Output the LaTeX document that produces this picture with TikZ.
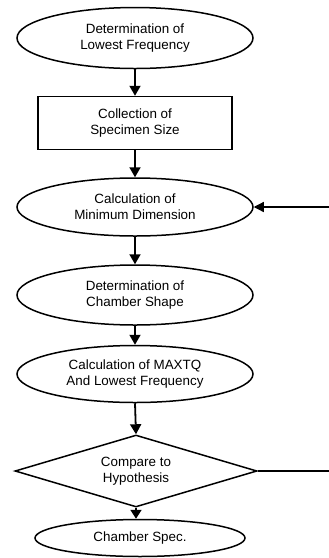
\documentclass[tikz,border=0pt]{standalone}
\usepackage{fontspec}
\setmainfont{Liberation Sans}
\usetikzlibrary{shapes.geometric,arrows.meta}
\begin{document}
\begin{tikzpicture}[x=1pt,y=-1pt,
  box/.style={draw, line width=1.5pt, fill=white, align=center, inner sep=0pt,
    font=\fontsize{13.4}{16}\selectfont},
  oval/.style={box, ellipse},
  rectbox/.style={box, rectangle, minimum width=194pt, minimum height=53pt},
  decision/.style={box, diamond, shape aspect=3.3, minimum width=242pt, minimum height=72pt},
  arr/.style={-{Triangle[length=10pt,width=11pt]}, line width=1.8pt},
  fb/.style={line width=1.2pt}]
\useasboundingbox (0,0) rectangle (329,558);
\node[oval, minimum width=236pt, minimum height=61pt] (e1) at (135,38) {Determination of\\Lowest Frequency};
\node[rectbox] (r) at (135,123) {Collection of\\Specimen Size};
\node[oval, minimum width=236pt, minimum height=58pt] (e3) at (135,207) {Calculation of\\Minimum Dimension};
\node[oval, minimum width=236pt, minimum height=60pt] (e4) at (135,295) {Determination of\\Chamber Shape};
\node[oval, minimum width=236pt, minimum height=57pt] (e5) at (135,374) {Calculation of MAXTQ\\And Lowest Frequency};
\node[decision] (d) at (136,471) {Compare to\\Hypothesis};
\node[oval, minimum width=210pt, minimum height=37pt] (e6) at (140,538) {Chamber Spec.};
\coordinate (c1) at (329,207);
\coordinate (c2) at (329,471);
\draw[arr] (e1.south) -- (r.north);
\draw[arr] (r.south) -- (e3.north);
\draw[arr] (e3.south) -- (e4.north);
\draw[arr] (e4.south) -- (e5.north);
\draw[arr] (e5.south) -- (d.north);
\draw[line width=1.8pt, -{Triangle[length=9pt,width=11pt]}] (d.south) -- (d.south |- e6.north);
\draw[fb, -{Triangle[length=10pt,width=10pt]}] (c1) -- (e3.east);
\draw[fb] (d.east) -- (c2);
\end{tikzpicture}
\end{document}
